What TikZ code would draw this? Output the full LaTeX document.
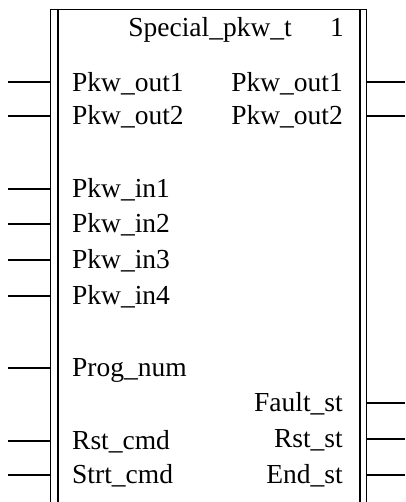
\documentclass[tikz,border=0pt]{standalone}
\usepackage{fontspec}
\setmainfont{Liberation Serif}
\usetikzlibrary{positioning}

\begin{document}
\begin{tikzpicture}[
  x=1pt, y=-1pt,
  every node/.style={font=\fontsize{27.5}{27.5}\selectfont, inner sep=0pt},
  inlab/.style={anchor=base west},
  outlab/.style={anchor=base east},
  lead/.style={line width=1.3pt},
  frame/.style={line width=1pt},
  bar/.style={line width=2pt}
]
  \useasboundingbox (0,0) rectangle (405,502);

  % block outline (open at the bottom)
  \coordinate (lft) at (50,9.5);
  \coordinate (rgt) at (366,9.5);
  \coordinate (lbar) at (57.5,9.5);
  \coordinate (rbar) at (359.5,9.5);
  \draw[frame] (lft |- 0,502) -- (lft) -- (rgt) -- (rgt |- 0,502);
  \draw[bar] (lbar) -- (lbar |- 0,502);
  \draw[bar] (rbar) -- (rbar |- 0,502);

  % title
  \node[outlab] (title) at (292,37) {Special\_pkw\_t};
  \node[outlab] (inst) at (344,37) {1};

  % input pins
  \foreach \n/\y in {a/82,b/116,c/189,d/224,e/260,f/296,g/368,h/441,i/475}{
    \coordinate (in\n) at (8,\y);
    \draw[lead] (in\n) -- (in\n -| lft);
  }
  \node[inlab] (pkwouta) at (72,91.5) {Pkw\_out1};
  \node[inlab] (pkwoutb) at (72,124.5) {Pkw\_out2};
  \node[inlab] (pkwina) at (72,197.5) {Pkw\_in1};
  \node[inlab] (pkwinb) at (72,232.5) {Pkw\_in2};
  \node[inlab] (pkwinc) at (72,268.5) {Pkw\_in3};
  \node[inlab] (pkwind) at (72,304.5) {Pkw\_in4};
  \node[inlab] (prognum) at (72,376.5) {Prog\_num};
  \node[inlab] (rstcmd) at (72,449.5) {Rst\_cmd};
  \node[inlab] (strtcmd) at (72,483.5) {Strt\_cmd};

  % output pins
  \foreach \n/\y in {a/82,b/116,c/403,d/439,e/475}{
    \coordinate (out\n) at (405,\y);
    \draw[lead] (out\n -| rgt) -- (out\n);
  }
  \node[outlab] (qpkwouta) at (343,91.5) {Pkw\_out1};
  \node[outlab] (qpkwoutb) at (343,124.5) {Pkw\_out2};
  \node[outlab] (faultst) at (343,411.5) {Fault\_st};
  \node[outlab] (rstst) at (343,447.5) {Rst\_st};
  \node[outlab] (endst) at (343,483.5) {End\_st};
\end{tikzpicture}
\end{document}
